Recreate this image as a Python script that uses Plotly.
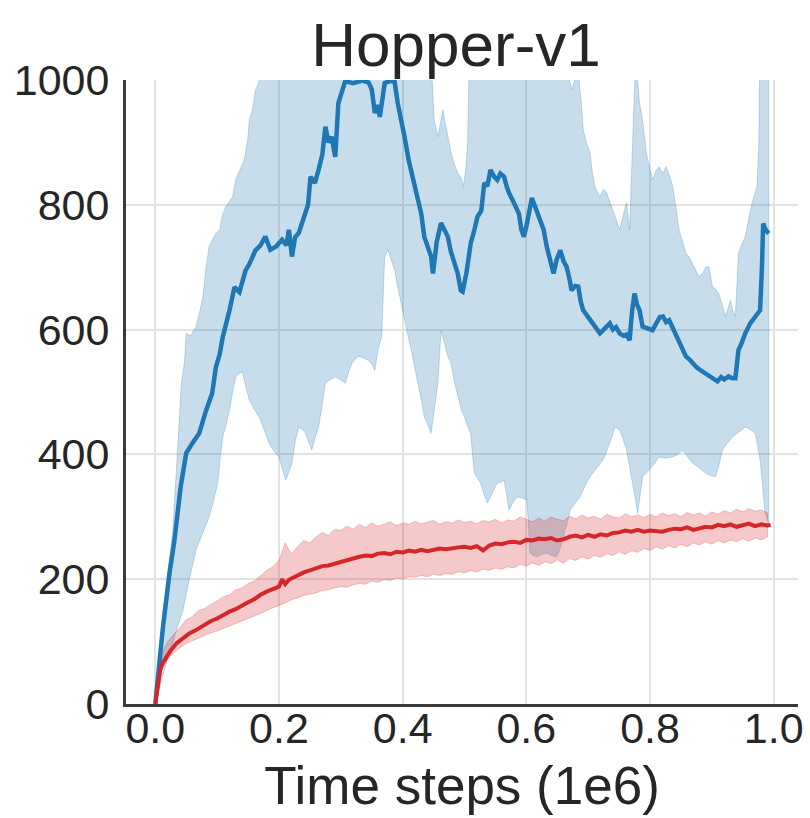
import plotly.graph_objects as go
import numpy as np

# ---------------- data (x in units of 1e6 time steps) ----------------
blue_mean_x = [0.0, 0.012, 0.023, 0.031, 0.041, 0.05, 0.06, 0.071, 0.082, 0.092, 0.098, 0.104, 0.109,
               0.115, 0.12, 0.128, 0.136, 0.146, 0.152, 0.162, 0.17, 0.178, 0.186, 0.195, 0.205, 0.212,
               0.216, 0.221, 0.226, 0.232, 0.242, 0.247, 0.251, 0.258, 0.264, 0.27, 0.275, 0.28, 0.285,
               0.291, 0.296, 0.302, 0.307, 0.32, 0.335, 0.345, 0.35, 0.355, 0.36, 0.363, 0.368, 0.371,
               0.38, 0.387, 0.392, 0.398, 0.403, 0.41, 0.419, 0.425, 0.43, 0.435, 0.44, 0.446, 0.449,
               0.455, 0.462, 0.468, 0.473, 0.478, 0.483, 0.489, 0.494, 0.497, 0.503, 0.51, 0.516, 0.521,
               0.527, 0.532, 0.537, 0.542, 0.548, 0.553, 0.558, 0.564, 0.568, 0.572, 0.58, 0.584, 0.588,
               0.592, 0.596, 0.6, 0.605, 0.609, 0.615, 0.622, 0.628, 0.633, 0.638, 0.644, 0.649, 0.655,
               0.66, 0.665, 0.67, 0.673, 0.679, 0.684, 0.688, 0.692, 0.7, 0.708, 0.714, 0.719, 0.725,
               0.73, 0.735, 0.74, 0.745, 0.751, 0.757, 0.762, 0.767, 0.771, 0.775, 0.779, 0.783, 0.788,
               0.795, 0.804, 0.81, 0.816, 0.821, 0.826, 0.831, 0.838, 0.847, 0.853, 0.858, 0.864, 0.869,
               0.875, 0.88, 0.89, 0.9, 0.909, 0.915, 0.92, 0.927, 0.933, 0.938, 0.941, 0.943, 0.948,
               0.954, 0.962, 0.97, 0.978, 0.981, 0.983, 0.987, 0.992]
blue_mean_y = [0, 120, 210, 263, 348, 402, 418, 434, 470, 498, 540, 560, 588,
               610, 631, 668, 660, 695, 705, 727, 735, 749, 728, 733, 744, 735,
               760, 717, 748, 755, 786, 800, 845, 835, 856, 880, 925, 900, 909,
               877, 963, 985, 998, 995, 999, 996, 985, 947, 960, 941, 975, 995,
               999, 997, 963, 935, 909, 870, 829, 805, 786, 749, 735, 717, 690,
               740, 771, 760, 749, 725, 706, 690, 663, 661, 690, 738, 760, 781,
               790, 835, 830, 856, 845, 840, 850, 845, 830, 819, 803, 792, 786,
               760, 749, 765, 790, 811, 795, 776, 760, 733, 715, 690, 712, 727,
               710, 701, 680, 663, 670, 669, 645, 631, 620, 610, 600, 594, 600,
               606, 610, 600, 604, 594, 590, 592, 583, 630, 658, 640, 631, 605,
               603, 599, 610, 620, 621, 612, 615, 600, 578, 568, 557, 552, 546,
               540, 536, 530, 522, 517, 524, 520, 525, 522, 522, 548, 567, 578,
               594, 610, 621, 631, 700, 770, 760, 754]

blue_upper_x = [0.0, 0.006, 0.012, 0.02, 0.028, 0.036, 0.042, 0.047, 0.05, 0.057, 0.066, 0.072, 0.077,
                0.082, 0.087, 0.093, 0.098, 0.104, 0.109, 0.114, 0.12, 0.125, 0.13, 0.137, 0.143, 0.146,
                0.15, 0.152, 0.157, 0.162, 0.167, 0.173, 0.2, 0.44, 0.445, 0.448, 0.451, 0.457, 0.461,
                0.465, 0.469, 0.473, 0.478, 0.483, 0.489, 0.494, 0.498, 0.502, 0.505, 0.508, 0.52, 0.665,
                0.67, 0.673, 0.678, 0.683, 0.686, 0.689, 0.692, 0.697, 0.703, 0.707, 0.711, 0.719, 0.725,
                0.73, 0.735, 0.74, 0.745, 0.751, 0.757, 0.762, 0.767, 0.77, 0.772, 0.775, 0.778, 0.78,
                0.783, 0.788, 0.794, 0.799, 0.804, 0.81, 0.815, 0.82, 0.826, 0.832, 0.837, 0.842, 0.847,
                0.853, 0.858, 0.864, 0.869, 0.874, 0.879, 0.885, 0.89, 0.895, 0.901, 0.906, 0.911, 0.917,
                0.922, 0.926, 0.93, 0.934, 0.938, 0.941, 0.943, 0.948, 0.954, 0.96, 0.965, 0.973, 0.976,
                0.978, 0.992]
blue_upper_y = [0, 80, 146, 210, 274, 407, 514, 546, 594, 590, 605, 630, 653,
                700, 733, 745, 754, 760, 785, 797, 805, 813, 840, 855, 870, 883,
                910, 936, 952, 984, 995, 1050, 1150, 1150, 1050, 980, 936, 909, 930,
                952, 930, 909, 885, 867, 850, 845, 829, 856, 900, 1050, 1150, 1150,
                1000, 984, 1000, 1050, 990, 963, 920, 900, 883, 850, 829, 813, 825,
                819, 805, 792, 775, 760, 785, 803, 760, 850, 936, 990, 1050, 1000,
                963, 936, 883, 860, 840, 855, 861, 850, 861, 845, 829, 795, 760,
                740, 722, 715, 706, 695, 685, 690, 700, 701, 669, 665, 658, 640,
                621, 635, 647, 630, 621, 680, 722, 735, 749, 780, 803, 829, 900,
                1100, 1100]

blue_lower_x = [0.0, 0.01, 0.02, 0.03, 0.038, 0.045, 0.055, 0.066, 0.077, 0.087, 0.094, 0.101, 0.105,
                0.109, 0.115, 0.12, 0.125, 0.13, 0.136, 0.141, 0.146, 0.152, 0.16, 0.168, 0.176, 0.184,
                0.192, 0.2, 0.206, 0.211, 0.216, 0.221, 0.226, 0.232, 0.238, 0.243, 0.248, 0.253, 0.258,
                0.264, 0.27, 0.275, 0.283, 0.291, 0.299, 0.307, 0.312, 0.318, 0.323, 0.328, 0.336, 0.344,
                0.35, 0.355, 0.36, 0.366, 0.368, 0.371, 0.376, 0.381, 0.387, 0.392, 0.398, 0.403, 0.409,
                0.414, 0.419, 0.425, 0.43, 0.435, 0.441, 0.446, 0.451, 0.457, 0.462, 0.467, 0.472, 0.478,
                0.484, 0.49, 0.495, 0.5, 0.505, 0.51, 0.513, 0.516, 0.521, 0.526, 0.531, 0.537, 0.545,
                0.553, 0.558, 0.564, 0.568, 0.572, 0.578, 0.585, 0.593, 0.601, 0.604, 0.606, 0.612, 0.617,
                0.625, 0.633, 0.641, 0.649, 0.655, 0.66, 0.666, 0.671, 0.679, 0.687, 0.692, 0.697, 0.705,
                0.714, 0.72, 0.724, 0.73, 0.735, 0.739, 0.743, 0.747, 0.751, 0.757, 0.762, 0.767, 0.772,
                0.776, 0.78, 0.784, 0.788, 0.794, 0.799, 0.807, 0.815, 0.825, 0.837, 0.845, 0.853, 0.861,
                0.869, 0.88, 0.89, 0.898, 0.906, 0.912, 0.917, 0.925, 0.933, 0.944, 0.954, 0.962, 0.97,
                0.974, 0.978, 0.982, 0.986, 0.992]
blue_lower_y = [0, 40, 75, 105, 130, 151, 200, 247, 275, 300, 325, 354, 395,
                428, 450, 471, 500, 524, 530, 532, 510, 487, 472, 460, 440, 418,
                405, 396, 375, 359, 372, 386, 420, 444, 440, 434, 420, 407, 425,
                444, 480, 514, 520, 524, 520, 514, 530, 546, 552, 557, 555, 551,
                545, 535, 567, 589, 650, 717, 728, 712, 695, 668, 642, 615, 589,
                567, 546, 514, 487, 460, 447, 434, 470, 514, 599, 580, 560, 546,
                514, 490, 471, 460, 445, 434, 400, 370, 362, 354, 338, 322, 338,
                354, 355, 359, 335, 311, 322, 332, 330, 327, 280, 242, 238, 236,
                240, 242, 238, 236, 250, 268, 290, 311, 322, 332, 343, 354, 367,
                380, 386, 391, 405, 418, 430, 444, 442, 439, 423, 407, 380, 354,
                330, 306, 335, 364, 370, 375, 385, 396, 394, 396, 400, 407, 396,
                386, 378, 370, 366, 364, 385, 407, 418, 428, 436, 444, 440, 434,
                415, 391, 350, 306, 290]

red_mean_x = [0.0, 0.004, 0.008, 0.012, 0.018, 0.025, 0.034, 0.044, 0.055, 0.065, 0.075, 0.082,
              0.09, 0.1, 0.11, 0.12, 0.13, 0.14, 0.15, 0.16, 0.17, 0.18, 0.19, 0.2, 0.205, 0.21, 0.216,
              0.22, 0.23, 0.24, 0.25, 0.26, 0.27, 0.28, 0.29, 0.3, 0.31, 0.32, 0.33, 0.34, 0.35, 0.36,
              0.37, 0.38, 0.39, 0.4, 0.41, 0.42, 0.43, 0.44, 0.45, 0.46, 0.47, 0.48, 0.49, 0.5, 0.51,
              0.52, 0.53, 0.54, 0.55, 0.56, 0.57, 0.58, 0.59, 0.6, 0.61, 0.62, 0.63, 0.64, 0.65, 0.66,
              0.67, 0.68, 0.69, 0.7, 0.71, 0.72, 0.73, 0.74, 0.75, 0.76, 0.77, 0.78, 0.79, 0.8, 0.81,
              0.82, 0.83, 0.84, 0.85, 0.86, 0.87, 0.88, 0.89, 0.9, 0.91, 0.92, 0.93, 0.94, 0.95, 0.96,
              0.97, 0.98, 0.99, 0.995]
red_mean_y = [0, 30, 55, 66, 76, 86, 97, 104, 113, 118, 124, 129,
              133, 137, 143, 148, 152, 158, 163, 168, 175, 180, 184, 188, 200, 192, 199,
              201, 205, 211, 214, 218, 221, 222, 225, 228, 231, 233, 236, 238, 237, 241,
              242, 240, 244, 243, 246, 244, 247, 245, 247, 249, 248, 250, 251, 252, 250,
              253, 246, 254, 257, 256, 259, 260, 258, 263, 262, 265, 264, 266, 262, 264,
              268, 270, 267, 271, 268, 272, 270, 274, 275, 278, 276, 279, 276, 278, 277,
              276, 279, 281, 280, 283, 279, 282, 284, 283, 287, 285, 288, 284, 286, 289,
              285, 288, 286, 287]

red_band_x = np.round(np.arange(0, 100) * 0.01, 2).tolist()
red_upper_y = [0, 80, 100, 112, 122, 135, 140, 150, 153, 160,
               165, 172, 175, 183, 186, 193, 197, 205, 214, 220,
               230, 258, 240, 252, 262, 258, 268, 275, 270, 280,
               278, 285, 280, 288, 283, 290, 285, 288, 292, 286,
               290, 288, 293, 289, 291, 294, 288, 292, 290, 295,
               291, 293, 289, 294, 292, 296, 290, 295, 293, 300,
               296, 292, 298, 293, 300, 296, 294, 301, 297, 303,
               298, 301, 296, 304, 300, 298, 305, 300, 303, 299,
               304, 300, 306, 302, 305, 300, 307, 303, 306, 301,
               308, 304, 310, 306, 312, 308, 313, 309, 311, 306]
red_lower_y = [0, 55, 72, 82, 90, 97, 101, 106, 110, 114,
               117, 121, 125, 128, 133, 136, 141, 145, 150, 155,
               158, 162, 167, 170, 174, 176, 178, 182, 183, 186,
               188, 187, 191, 193, 192, 197, 195, 199, 198, 202,
               200, 204, 203, 206, 204, 208, 206, 209, 208, 212,
               210, 214, 211, 216, 214, 218, 216, 220, 218, 224,
               221, 226, 222, 228, 225, 231, 226, 233, 230, 236,
               232, 238, 235, 241, 238, 244, 240, 246, 243, 249,
               246, 252, 248, 254, 250, 256, 252, 258, 255, 260,
               256, 262, 258, 263, 260, 265, 261, 266, 263, 268]

x_ticks = [0.0, 0.2, 0.4, 0.6, 0.8, 1.0]
y_ticks = [0, 200, 400, 600, 800, 1000]

BLUE = "#1f77b4"
RED = "#d62728"
FONT = "Liberation Sans, Arial, Helvetica, sans-serif"

fig = go.Figure()

# blue band
fig.add_trace(go.Scatter(
    x=blue_upper_x + blue_lower_x[::-1],
    y=blue_upper_y + blue_lower_y[::-1],
    fill="toself", fillcolor="rgba(31,119,180,0.25)",
    line=dict(color="rgba(31,119,180,0.25)", width=1),
    mode="lines", hoverinfo="skip"))
# red band
fig.add_trace(go.Scatter(
    x=red_band_x + red_band_x[::-1],
    y=red_upper_y + red_lower_y[::-1],
    fill="toself", fillcolor="rgba(214,39,40,0.25)",
    line=dict(color="rgba(214,39,40,0.25)", width=1),
    mode="lines", hoverinfo="skip"))
# mean lines
fig.add_trace(go.Scatter(x=blue_mean_x, y=blue_mean_y, mode="lines",
                         line=dict(color=BLUE, width=4.5)))
fig.add_trace(go.Scatter(x=red_mean_x, y=red_mean_y, mode="lines",
                         line=dict(color=RED, width=4)))

fig.update_layout(
    width=810, height=818,
    margin=dict(l=126, r=7, t=80, b=114),
    plot_bgcolor="white", paper_bgcolor="white",
    showlegend=False,
    font=dict(family=FONT, color="#262626"),
    title=dict(text="Hopper-v1", font=dict(size=62, family=FONT, color="#262626"),
               xref="container", x=0.563, xanchor="center",
               yref="container", y=0.946, yanchor="middle"),
)
fig.update_xaxes(
    range=[-0.0474, 1.0393], tickvals=x_ticks, tickformat=".1f",
    showgrid=True, gridcolor="#e2e2e2", gridwidth=1.5,
    showline=True, linecolor="#3a3a3a", linewidth=3, zeroline=False,
    ticks="", tickfont=dict(size=43, family=FONT, color="#262626"),
    ticklabelstandoff=-16,
    title=dict(text="Time steps (1e6)", font=dict(size=53, family=FONT, color="#262626"), standoff=17),
)
fig.update_yaxes(
    range=[0, 1000], tickvals=y_ticks,
    showgrid=True, gridcolor="#e2e2e2", gridwidth=1.5,
    showline=True, linecolor="#3a3a3a", linewidth=3, zeroline=False,
    ticks="", tickfont=dict(size=43, family=FONT, color="#262626"),
    ticklabelstandoff=5,
)

fig.write_html("out.html")
